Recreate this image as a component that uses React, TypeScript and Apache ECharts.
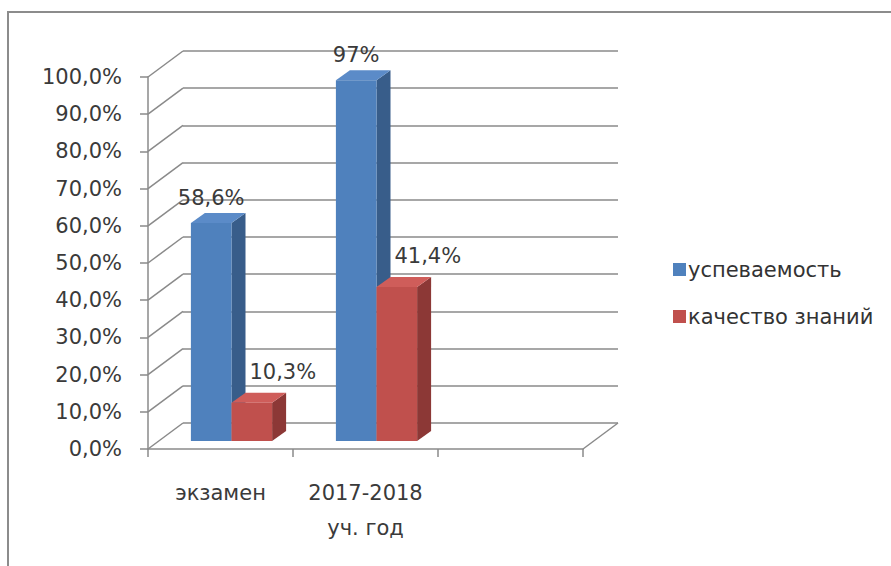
import React, { useEffect, useRef } from "react";
import * as echarts from "echarts";

const CATEGORIES = ["экзамен", "2017-2018\nуч. год", ""];
const SERIES_NAMES = ["успеваемость", "качество знаний"];
const USPEV = [0.586, 0.97];
const KACH = [0.103, 0.414];
const USPEV_LABELS = ["58,6%", "97%"];
const KACH_LABELS = ["10,3%", "41,4%"];
const Y_TICKS = [0, 0.1, 0.2, 0.3, 0.4, 0.5, 0.6, 0.7, 0.8, 0.9, 1.0];

const FONT = "DejaVu Sans";
const FS = 21;
const TEXT = "#3a3a3a";
const GRID_COLOR = "#8a8a8a";
const WALL_DX = 35;
const WALL_DY = -26;
const BAR_DX = 11;
const BAR_DY = -8;
const BAR_DEPTH_X = 14;
const BAR_DEPTH_Y = -10;
const BAR_FRAC = 0.28;

const COLORS = [
  { front: "#4f81bd", side: "#385d8a", top: "#5b8bc8" },
  { front: "#c0504d", side: "#8c3836", top: "#cf5d5a" },
];

function barSeries(idx: number, values: number[], labels: string[]) {
  const c = COLORS[idx];
  return {
    type: "custom",
    name: SERIES_NAMES[idx],
    xAxisIndex: 0,
    yAxisIndex: 0,
    itemStyle: { color: c.front },
    encode: { x: 0, y: 1 },
    data: values.map((v, i) => [i, v]),
    renderItem: (params: any, api: any) => {
      const cat = api.value(0);
      const val = api.value(1);
      const lbl = labels[params.dataIndex];
      const base = api.coord([cat, 0]);
      const top = api.coord([cat, val]);
      const band = api.size([1, 0])[0];
      const w = band * BAR_FRAC;
      const x0 = base[0] + (idx === 0 ? -w : 0) + BAR_DX;
      const x1 = x0 + w;
      const by = base[1] + BAR_DY;
      const ty = top[1] + BAR_DY;
      const dx = BAR_DEPTH_X;
      const dy = BAR_DEPTH_Y;
      const lx = idx === 0 ? (x0 + x1) / 2 : (x0 + x1) / 2 + 31;
      const ly = idx === 0 ? ty - 25 : ty - 31;
      return {
        type: "group",
        children: [
          {
            type: "polygon",
            shape: { points: [[x1, ty], [x1 + dx, ty + dy], [x1 + dx, by + dy], [x1, by]] },
            style: { fill: c.side },
          },
          {
            type: "polygon",
            shape: { points: [[x0, ty], [x0 + dx, ty + dy], [x1 + dx, ty + dy], [x1, ty]] },
            style: { fill: c.top },
          },
          {
            type: "rect",
            shape: { x: x0, y: ty, width: w, height: by - ty },
            style: { fill: c.front },
          },
          {
            type: "text",
            x: lx,
            y: ly,
            style: {
              text: lbl,
              font: `${FS}px "${FONT}"`,
              fill: TEXT,
              align: "center",
              verticalAlign: "middle",
            },
          },
        ],
      };
    },
  };
}

export default function App() {
  const ref = useRef<HTMLDivElement>(null);
  useEffect(() => {
    if (!ref.current) return;
    const chart = echarts.init(ref.current, undefined, { renderer: "svg" });
    const option: any = {
      animation: false,
      backgroundColor: "#ffffff",
      textStyle: { fontFamily: FONT },
      graphic: [
        {
          type: "rect",
          shape: { x: 8, y: 12, width: 900, height: 600 },
          style: { fill: "none", stroke: "#8c8c8c", lineWidth: 2 },
          silent: true,
        },
      ],
      legend: {
        orient: "vertical",
        left: 668,
        top: 254,
        itemWidth: 13,
        itemHeight: 13,
        itemGap: 26,
        icon: "rect",
        data: SERIES_NAMES,
        textStyle: { fontFamily: FONT, fontSize: FS, color: "#333333", padding: [0, 0, 0, -3] },
      },
      grid: [
        { left: 148, top: 77, right: 308, bottom: 117 },
        { left: 148 + WALL_DX, top: 77 + WALL_DY, right: 308 - WALL_DX, bottom: 117 - WALL_DY },
      ],
      xAxis: [
        {
          type: "category",
          gridIndex: 0,
          data: CATEGORIES,
          axisLine: { show: true, lineStyle: { color: GRID_COLOR, width: 1.5 } },
          axisTick: { show: true, length: 8, lineStyle: { color: GRID_COLOR, width: 1.5 } },
          axisLabel: {
            fontFamily: FONT,
            fontSize: FS,
            color: TEXT,
            margin: 26,
            lineHeight: 35,
            interval: 0,
          },
          splitLine: { show: false },
        },
        {
          type: "value",
          gridIndex: 1,
          min: 0,
          max: 1,
          show: false,
        },
      ],
      yAxis: [
        {
          type: "value",
          gridIndex: 0,
          min: 0,
          max: 1,
          interval: 0.1,
          axisLine: { show: true, lineStyle: { color: GRID_COLOR, width: 1.5 } },
          axisTick: { show: true, length: 8, lineStyle: { color: GRID_COLOR, width: 1.5 } },
          axisLabel: {
            fontFamily: FONT,
            fontSize: FS,
            color: TEXT,
            margin: 26,
            formatter: (v: number) => (v * 100).toFixed(1).replace(".", ",") + "%",
          },
          splitLine: { show: false },
        },
        {
          type: "value",
          gridIndex: 1,
          min: 0,
          max: 1,
          interval: 0.1,
          axisLine: { show: false },
          axisTick: { show: false },
          axisLabel: { show: false },
          splitLine: { show: true, lineStyle: { color: GRID_COLOR, width: 1.5 } },
        },
      ],
      series: [
        {
          type: "custom",
          name: "frame",
          xAxisIndex: 0,
          yAxisIndex: 0,
          silent: true,
          z: 1,
          data: Y_TICKS.map((v) => [0, v]),
          renderItem: (params: any, api: any) => {
            const v = api.value(1);
            const band = api.size([1, 0])[0];
            const p = api.coord([0, v]);
            const lx = p[0] - band / 2;
            const children: any[] = [
              {
                type: "line",
                shape: { x1: lx, y1: p[1], x2: lx + WALL_DX, y2: p[1] + WALL_DY },
                style: { stroke: GRID_COLOR, lineWidth: 1.5 },
              },
            ];
            if (v === 0) {
              const r = api.coord([CATEGORIES.length - 1, 0]);
              const rx = r[0] + band / 2;
              children.push({
                type: "line",
                shape: { x1: rx, y1: r[1], x2: rx + WALL_DX, y2: r[1] + WALL_DY },
                style: { stroke: GRID_COLOR, lineWidth: 1.5 },
              });
            }
            return { type: "group", children };
          },
        },
        barSeries(0, USPEV, USPEV_LABELS),
        barSeries(1, KACH, KACH_LABELS),
      ],
    };
    chart.setOption(option);
    return () => chart.dispose();
  }, []);
  return (
    <div
      ref={ref}
      style={{ position: "fixed", left: 0, top: 0, width: 891, height: 566 }}
    />
  );
}
